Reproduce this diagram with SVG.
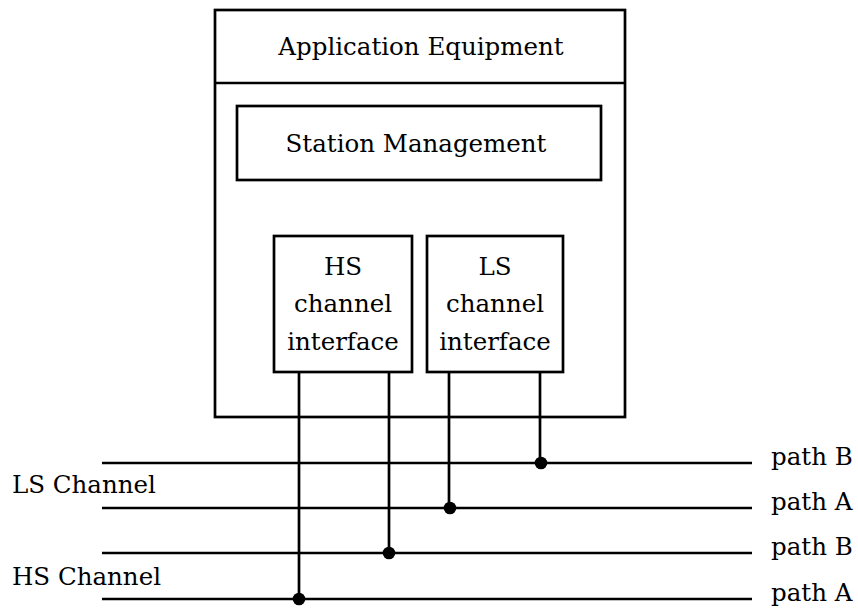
<svg xmlns="http://www.w3.org/2000/svg" width="858" height="608" viewBox="0 0 858 608">
<style>
.box{fill:#fff;stroke:#000;stroke-width:2.7}
.ln{stroke:#000;stroke-width:2.7;fill:none}
.t{font-family:"DejaVu Serif","Liberation Serif",serif;font-size:24.5px;fill:#000}
.c{text-anchor:middle}
.dot{fill:#000}
</style>
<rect width="858" height="608" fill="#fff"/>
<g id="application-equipment">
<rect class="box" x="215" y="10" width="410" height="407"/>
<line class="ln" x1="215" y1="83" x2="625" y2="83"/>
<text class="t c" x="421" y="55">Application Equipment</text>
</g>
<g id="station-management">
<rect class="box" x="237" y="106" width="364" height="74"/>
<text class="t c" x="416" y="152">Station Management</text>
</g>
<g id="hs-interface">
<rect class="box" x="274" y="236" width="138" height="136"/>
<text class="t c" x="343" y="275">HS</text>
<text class="t c" x="343" y="312">channel</text>
<text class="t c" x="343" y="350">interface</text>
</g>
<g id="ls-interface">
<rect class="box" x="427" y="236" width="136" height="136"/>
<text class="t c" x="495" y="275">LS</text>
<text class="t c" x="495" y="312">channel</text>
<text class="t c" x="495" y="350">interface</text>
</g>
<g id="channels">
<line class="ln" x1="102" y1="463" x2="752" y2="463"/>
<line class="ln" x1="102" y1="508" x2="752" y2="508"/>
<line class="ln" x1="102" y1="553" x2="752" y2="553"/>
<line class="ln" x1="102" y1="599" x2="752" y2="599"/>
<text class="t" x="12" y="493">LS Channel</text>
<text class="t" x="12" y="585">HS Channel</text>
<text class="t" x="771" y="465">path B</text>
<text class="t" x="771" y="510">path A</text>
<text class="t" x="771" y="555">path B</text>
<text class="t" x="771" y="601">path A</text>
</g>
<g id="connectors">
<line class="ln" x1="299" y1="372" x2="299" y2="599"/>
<line class="ln" x1="389" y1="372" x2="389" y2="553"/>
<line class="ln" x1="449" y1="372" x2="449" y2="508"/>
<line class="ln" x1="540" y1="372" x2="540" y2="463"/>
<circle class="dot" cx="299" cy="599" r="6.3"/>
<circle class="dot" cx="389" cy="553" r="6.3"/>
<circle class="dot" cx="450" cy="508" r="6.3"/>
<circle class="dot" cx="541" cy="463" r="6.3"/>
</g>
</svg>
